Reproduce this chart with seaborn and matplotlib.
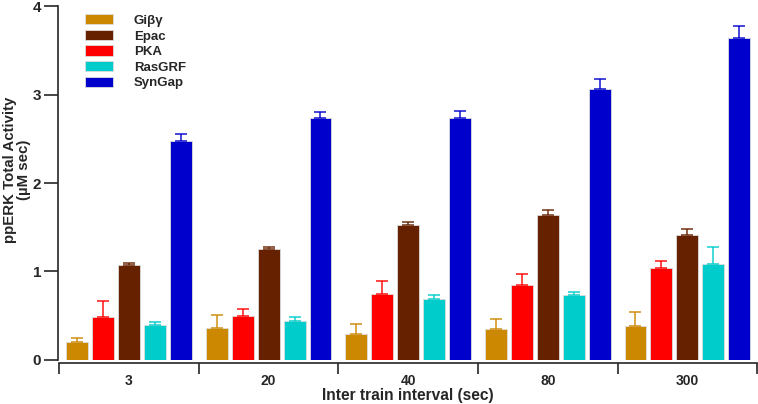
import numpy as np
import pandas as pd
import matplotlib
matplotlib.use("Agg")
import matplotlib.pyplot as plt
import seaborn as sns

# data
intervals = ["3", "20", "40", "80", "300"]
bar_order = ["Giβγ", "PKA", "Epac", "RasGRF", "SynGap"]
legend_order = ["Giβγ", "Epac", "PKA", "RasGRF", "SynGap"]

gi_mean = [0.20, 0.36, 0.29, 0.35, 0.38]
gi_err = [0.05, 0.15, 0.12, 0.11, 0.16]
pka_mean = [0.49, 0.50, 0.75, 0.85, 1.04]
pka_err = [0.18, 0.08, 0.14, 0.12, 0.08]
epac_mean = [1.07, 1.25, 1.52, 1.64, 1.41]
epac_err = [0.03, 0.03, 0.04, 0.05, 0.07]
rasgrf_mean = [0.39, 0.44, 0.69, 0.73, 1.08]
rasgrf_err = [0.04, 0.05, 0.04, 0.04, 0.20]
syngap_mean = [2.48, 2.74, 2.74, 3.06, 3.64]
syngap_err = [0.07, 0.06, 0.07, 0.12, 0.14]

colors = {"Giβγ": "#CC8800", "Epac": "#662200", "PKA": "#FF0000",
          "RasGRF": "#00CCCC", "SynGap": "#0000CC"}

means = {"Giβγ": gi_mean, "PKA": pka_mean, "Epac": epac_mean,
         "RasGRF": rasgrf_mean, "SynGap": syngap_mean}
errs = {"Giβγ": gi_err, "PKA": pka_err, "Epac": epac_err,
        "RasGRF": rasgrf_err, "SynGap": syngap_err}

rows = []
for k in bar_order:
    for i, iv in enumerate(intervals):
        rows.append({"interval": iv, "kinase": k, "value": means[k][i], "err": errs[k][i]})
df = pd.DataFrame(rows)

sns.set_style("ticks")
plt.rcParams["font.family"] = ["Liberation Sans", "DejaVu Sans"]
plt.rcParams["font.weight"] = "bold"

fig = plt.figure(figsize=(7.58, 4.04), dpi=100)
ax = fig.add_axes([0.078, 0.109, 0.921, 0.876])

sns.barplot(data=df, x="interval", y="value", hue="kinase", order=intervals,
            hue_order=bar_order, palette=colors, width=0.93, gap=0.155,
            errorbar=None, saturation=1, edgecolor="#dddddd", linewidth=0.6,
            legend=False, ax=ax)

# upward-only error bars, one per bar
for j, k in enumerate(bar_order):
    bars = ax.containers[j]
    sub = df[df["kinase"] == k].set_index("interval").loc[intervals]
    xs = [b.get_x() + b.get_width() / 2 for b in bars]
    ax.errorbar(xs, sub["value"], yerr=[np.zeros(len(xs)), sub["err"]],
                fmt="none", ecolor=colors[k], elinewidth=1.2, capsize=4,
                capthick=1.2, alpha=0.85)

ax.set_xlim(-0.5, 4.5)
ax.set_ylim(0, 4)
ax.set_yticks([0, 1, 2, 3, 4])
ax.set_xticks(np.arange(-0.5, 5, 1))
ax.set_xticklabels([])
ax.set_xticks(range(5), minor=True)
ax.set_xticklabels(intervals, minor=True, fontsize=11, fontweight="bold")
ax.tick_params(axis="x", which="minor", length=0, pad=8)
ax.tick_params(axis="x", which="major", length=8, width=1.2, direction="out")
ax.tick_params(axis="y", length=10, width=1.2, labelsize=11, pad=2)
for lab in ax.get_yticklabels():
    lab.set_fontweight("bold")

sns.despine(ax=ax)
ax.spines["left"].set_position(("outward", 1))
ax.spines["bottom"].set_position(("outward", 2))
ax.spines["left"].set_linewidth(1.2)
ax.spines["bottom"].set_linewidth(1.2)

ax.set_xlabel("Inter train interval (sec)", fontsize=11.2, fontweight="bold", labelpad=0)
ax.set_ylabel("ppERK Total Activity\n(µM sec)", fontsize=10.8, fontweight="bold",
              linespacing=1.0)
ax.yaxis.set_label_coords(-0.041, 0.537)

handles = [plt.Rectangle((0, 0), 1, 1, facecolor=colors[k], edgecolor="#dddddd", linewidth=0.6)
           for k in legend_order]
ax.legend(handles, legend_order, loc="upper left", bbox_to_anchor=(0.02, 1.01),
          frameon=False, prop={"weight": "bold", "size": 9.5}, handlelength=2.1,
          handleheight=0.8, handletextpad=1.6, labelspacing=0.22)

fig.savefig("out.png", dpi=100)
